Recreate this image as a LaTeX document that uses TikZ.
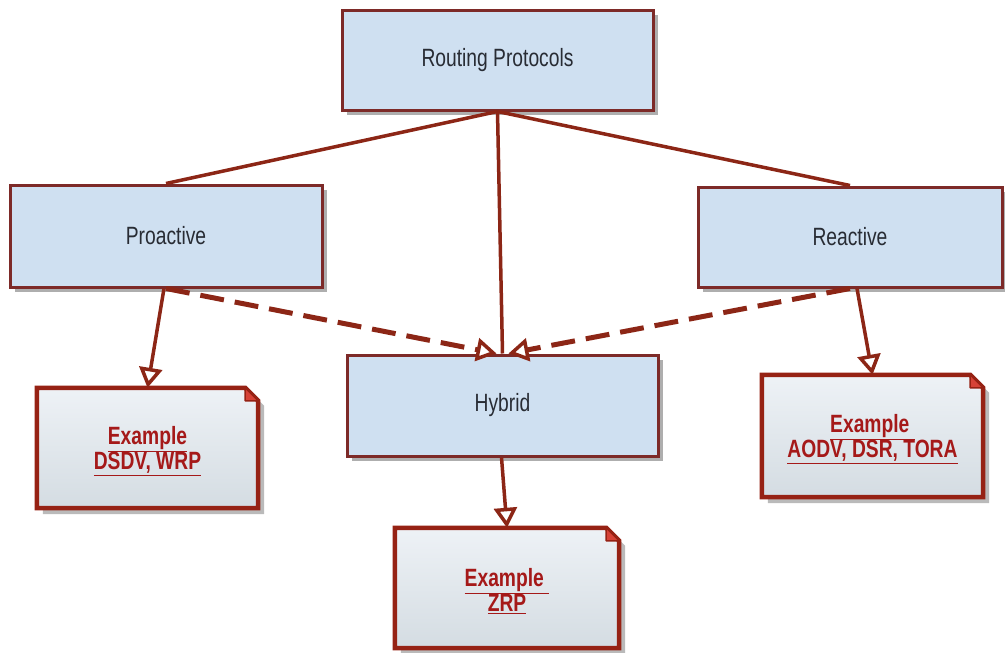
\documentclass[tikz,border=0pt]{standalone}
\usepackage{fontspec}
\setmainfont{Liberation Sans}[FakeStretch=0.77]
\usetikzlibrary{arrows.meta,shadows}

\definecolor{boxfill}{RGB}{207,224,241}
\definecolor{boxedge}{RGB}{125,42,40}
\definecolor{linkred}{RGB}{140,38,22}
\definecolor{noteedge}{RGB}{150,34,20}
\definecolor{notetop}{RGB}{238,242,246}
\definecolor{notebot}{RGB}{212,220,226}
\definecolor{notetext}{RGB}{165,25,25}
\definecolor{labeltext}{RGB}{40,44,52}
\definecolor{foldred}{RGB}{214,66,54}
\definecolor{shadowgray}{RGB}{140,140,140}

\begin{document}
\begin{tikzpicture}[x=1pt,y=-1pt,
  catbox/.style={rectangle, draw=boxedge, line width=3pt, fill=boxfill,
    text=labeltext, inner sep=0pt, font=\fontsize{25}{25}\selectfont,
    drop shadow={shadow xshift=5pt, shadow yshift=-5pt, fill=shadowgray, opacity=0.7}},
  notebox/.style={rectangle, inner sep=0pt, align=center, text=notetext,
    font=\fontsize{25}{21}\selectfont\bfseries},
  noteline/.style={draw=noteedge, line width=4.5pt, line join=miter},
  link/.style={draw=linkred, line width=3.5pt},
  dlink/.style={draw=linkred, line width=5pt, dash pattern=on 24pt off 11pt},
  opentip/.style={-{Triangle[width=23pt,length=20pt,fill=white,line width=3.5pt]}}
]
\useasboundingbox (0,0) rectangle (1005,653);

% category boxes
\node[catbox, minimum width=311pt, minimum height=100pt] (routing)   at (497.5,60) {Routing Protocols};
\node[catbox, minimum width=312pt, minimum height=102pt] (proactive) at (166,236)  {Proactive};
\node[catbox, minimum width=304pt, minimum height=100pt] (reactive)  at (850,237)  {Reactive};
\node[catbox, minimum width=311pt, minimum height=101pt] (hybrid)    at (502.5,405.5) {Hybrid};

% example notes (text nodes; the dog-eared frame is drawn below)
\node[notebox, minimum width=221pt, minimum height=120pt] (dsdv) at (147.5,448) {};
\node[notebox, minimum width=221pt, minimum height=122pt] (aodv) at (872.5,436) {};
\node[notebox, minimum width=224pt, minimum height=120pt] (zrp)  at (507,588) {};

\foreach \n in {dsdv,aodv,zrp}{
  % shadow
  \fill[shadowgray, opacity=0.6]
    ([shift={(6,6)}]\n.south west) -- ([shift={(6,6)}]\n.north west) --
    ([shift={(-6,6)}]\n.north east) -- ([shift={(6,18)}]\n.north east) --
    ([shift={(6,6)}]\n.south east) -- cycle;
  % shaded body with folded corner
  \path[top color=notetop, bottom color=notebot, noteline]
    (\n.south west) -- (\n.north west) -- ([shift={(-13,0)}]\n.north east) --
    ([shift={(0,13)}]\n.north east) -- (\n.south east) -- cycle;
  \filldraw[fill=foldred, draw=noteedge, line width=1.5pt, line join=round]
    ([shift={(-13,0)}]\n.north east) -- ([shift={(-13,13)}]\n.north east) --
    ([shift={(0,13)}]\n.north east) -- cycle;
}

\node[notebox] at ([shift={(0,3)}]dsdv) {\underline{Example}\\\underline{DSDV, WRP}};
\node[notebox] at ([shift={(0,3)}]aodv) {\underline{Example\ }\\\underline{AODV, DSR, TORA}};
\node[notebox] at ([shift={(0,3)}]zrp)  {\underline{Example\ }\\\underline{ZRP}};

% hierarchy links
\draw[link] (routing.south) -- (proactive.north);
\draw[link] (routing.south) -- (reactive.north);
\draw[link] (routing.south) -- (hybrid.north);

% dashed links into the hybrid class
\draw[dlink, opentip] (proactive.south) -- ([shift={(-6,0)}]hybrid.north);
\draw[dlink, opentip] (reactive.south)  -- ([shift={(6,0)}]hybrid.north);

% links to the examples
\draw[link, opentip] ([shift={(-2,0)}]proactive.south) -- (dsdv.north);
\draw[link, opentip] ([shift={(7,0)}]reactive.south) -- (aodv.north);
\draw[link, opentip] ([shift={(-1,0)}]hybrid.south) -- (zrp.north);
\end{tikzpicture}
\end{document}
